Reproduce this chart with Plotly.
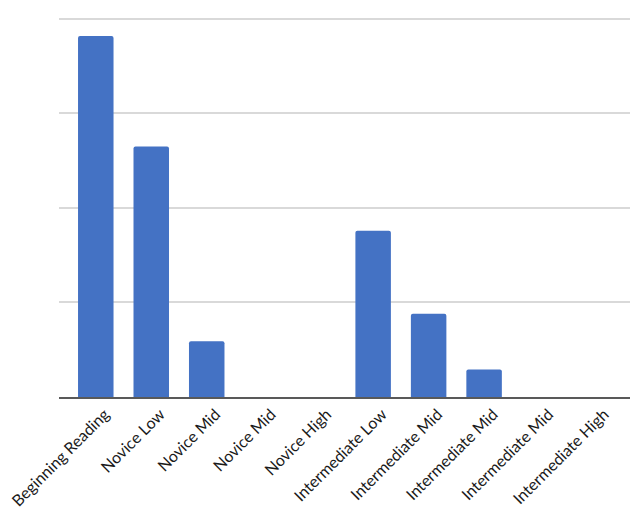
import plotly.graph_objects as go

categories = ["Beginning Reading", "Novice Low", "Novice Mid", "Novice Mid", "Novice High",
              "Intermediate Low", "Intermediate Mid", "Intermediate Mid", "Intermediate Mid",
              "Intermediate High"]
values = [38.2, 26.5, 5.9, 0, 0, 17.6, 8.8, 2.9, 0, 0]
positions = list(range(len(categories)))
y_ticks = [0, 10, 20, 30, 40]

fig = go.Figure(go.Bar(
    x=positions, y=values,
    marker=dict(color="#4472C4", line=dict(width=0)),
    hoverinfo="skip",
))

fig.update_layout(
    width=635, height=506,
    margin=dict(l=51, r=13, t=9, b=117),
    plot_bgcolor="white", paper_bgcolor="white",
    bargap=0.36,
    barcornerradius=2,
    showlegend=False,
    font=dict(family="Lato, Open Sans, sans-serif", size=16, color="#1a1a1a"),
)
fig.update_xaxes(
    range=[-0.663, 9.63],
    tickmode="array", tickvals=positions, ticktext=categories,
    tickangle=-45, showgrid=False, zeroline=False,
    showline=True, linecolor="#595959", linewidth=1.5,
    ticks="", automargin=False, ticklabeloverflow="allow",
    ticklabelshift=9,
)
fig.update_yaxes(
    range=[0, 40.2], tickmode="array", tickvals=y_ticks,
    showticklabels=False, showgrid=True, gridcolor="#d9d9d9", gridwidth=1.5,
    zeroline=False, showline=False, ticks="",
)

fig.write_html("out.html")
